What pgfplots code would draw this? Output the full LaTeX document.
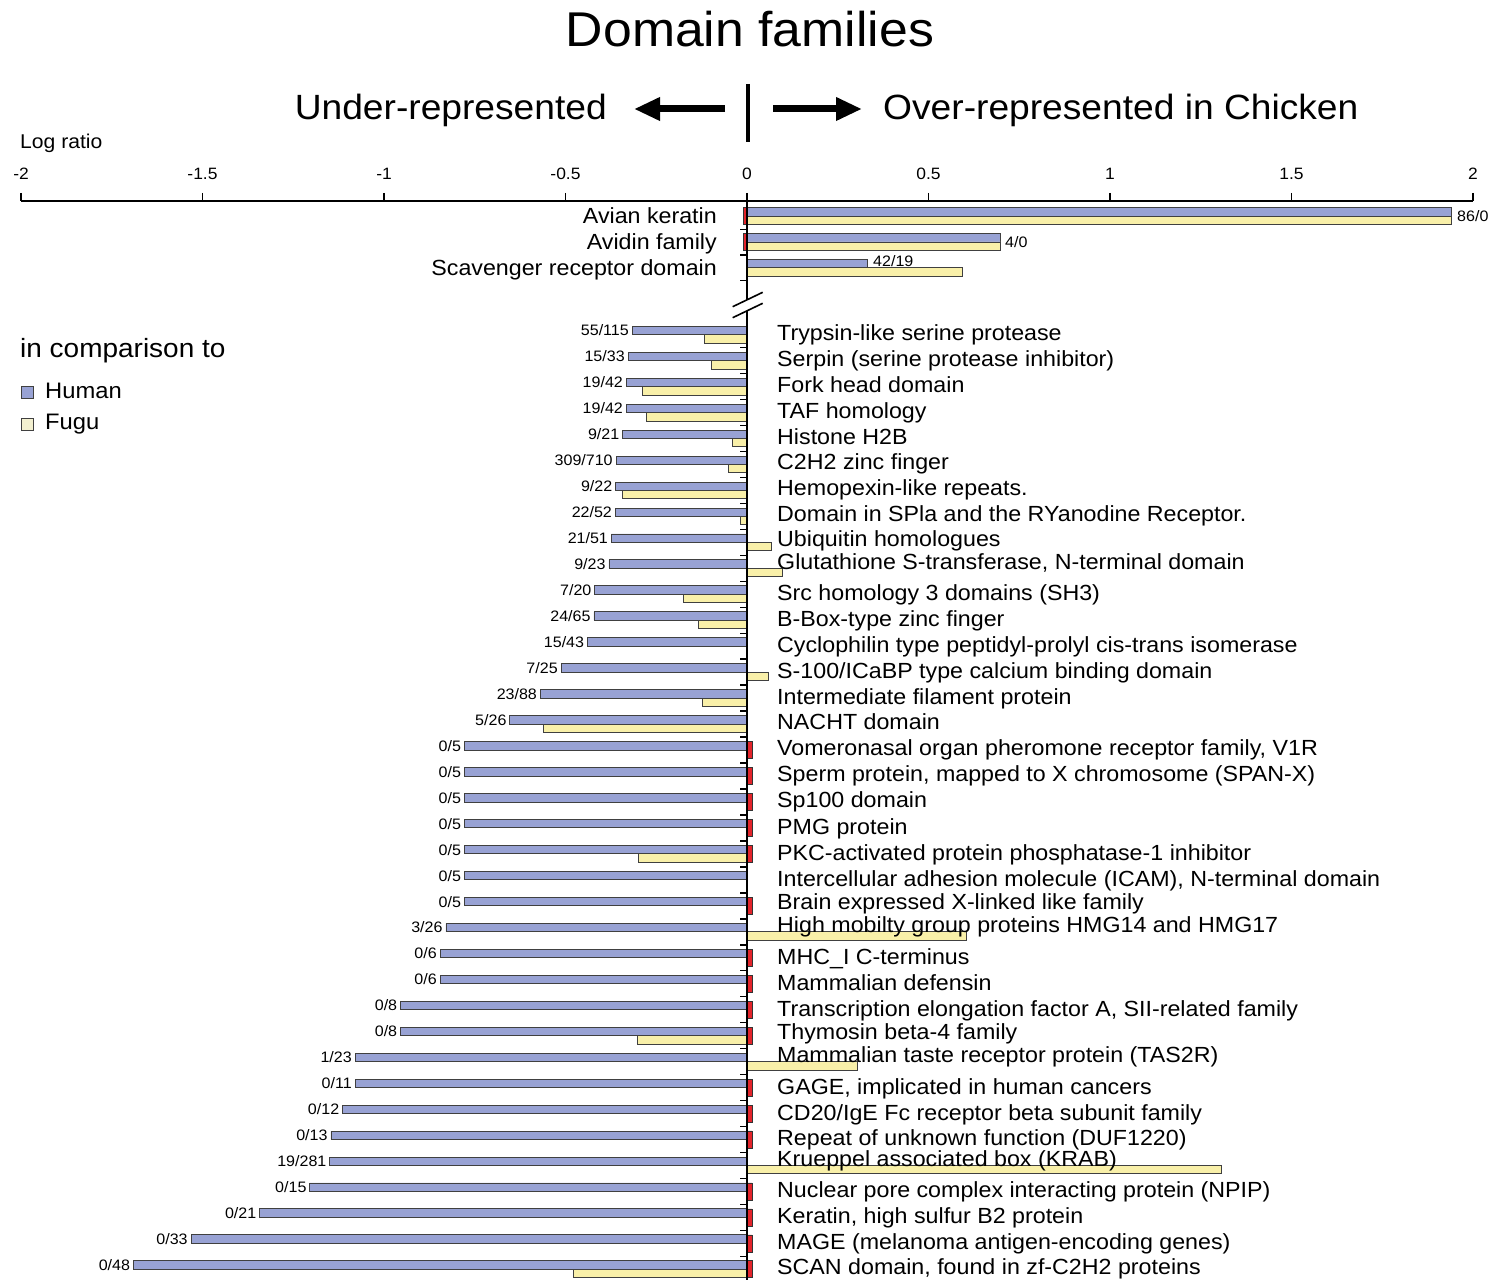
\documentclass[border=0pt]{standalone}
\usepackage{fontspec}
\setmainfont{Liberation Sans}[FakeStretch=1.06]
\usepackage{pgfplots}
\usepackage{pgfplotstable}
\pgfplotsset{compat=1.18}
\usetikzlibrary{arrows.meta}
\definecolor{hblue}{HTML}{98A2D4}
\definecolor{fyel}{HTML}{F9F0A9}
\definecolor{fyelleg}{HTML}{F3F0D0}
\definecolor{redbar}{HTML}{E3242B}
\newcommand{\fs}[1]{\fontsize{#1}{#1}\selectfont}

\pgfplotstableread{
mid human fugu
216.3 1.9395 1.9395
242.0 0.699 0.699
267.6 0.3324 0.593
}\toptab

\pgfplotstableread{
mid v
216.3 -0.011
242.0 -0.011
}\topred

\pgfplotstableread{
row human fugu lab
0 -0.3160 -0.118 55/115
1 -0.3274 -0.098 15/33
2 -0.3324 -0.289 19/42
3 -0.3324 -0.276 19/42
4 -0.3424 -0.041 9/21
5 -0.3605 -0.050 309/710
6 -0.3617 -0.342 9/22
7 -0.3626 -0.019 22/52
8 -0.3736 0.066 21/51
9 -0.3802 0.097 9/23
10 -0.4191 -0.176 7/20
11 -0.4216 -0.134 24/65
12 -0.4393 0 15/43
13 -0.5119 0.059 7/25
14 -0.5692 -0.122 23/88
15 -0.6532 -0.561 5/26
16 -0.7782 0 0/5
17 -0.7782 0 0/5
18 -0.7782 0 0/5
19 -0.7782 0 0/5
20 -0.7782 -0.299 0/5
21 -0.7782 0 0/5
22 -0.7782 0 0/5
23 -0.8293 0.604 3/26
24 -0.8451 0 0/6
25 -0.8451 0 0/6
26 -0.9542 0 0/8
27 -0.9542 -0.301 0/8
28 -1.0792 0.303 1/23
29 -1.0792 0 0/11
30 -1.1139 0 0/12
31 -1.1461 0 0/13
32 -1.1492 1.307 19/281
33 -1.2041 0 0/15
34 -1.3424 0 0/21
35 -1.5315 0 0/33
36 -1.6902 -0.477 0/48
}\lowtab

\pgfplotstableread{
row v
16 0.014
17 0.014
18 0.014
19 0.014
20 0.014
22 0.014
24 0.014
25 0.014
26 0.014
27 0.014
29 0.014
30 0.014
31 0.014
33 0.014
34 0.014
35 0.014
36 0.014
}\lowred

\begin{document}
\begin{tikzpicture}
\begin{axis}[
  scale only axis, width=1452bp, height=1079bp,
  xmin=-2, xmax=2, ymin=-1280, ymax=-201,
  axis x line*=top, axis y line=none,
  x axis line style={-, line width=1.6bp},
  xtick={-2,-1.5,-1,-0.5,0,0.5,1,1.5,2},
  xticklabels={-2,-1.5,-1,-0.5,0,0.5,1,1.5,2},
  tick align=outside, major tick length=8bp,
  tick style={line width=1.6bp, black},
  xticklabel style={font=\fs{16.5}, text=black},
  xticklabel shift=10bp,
  ytick=\empty,
  clip=false,
]
% top block
\addplot[xbar, bar shift=0pt, bar width=8.4, fill=hblue, draw=black!75, line width=0.9bp]
  table[x=human, y expr={-\thisrow{mid}+4.2}] {\toptab};
\addplot[xbar, bar shift=0pt, bar width=8.4, fill=fyel, draw=black!75, line width=0.9bp]
  table[x=fugu, y expr={-\thisrow{mid}-4.2}] {\toptab};
\addplot[xbar, bar shift=0pt, bar width=17, fill=redbar, draw=black!80, line width=0.6bp]
  table[x=v, y expr={-\thisrow{mid}}] {\topred};
% lower block
\addplot[xbar, bar shift=0pt, bar width=8.4, fill=hblue, draw=black!75, line width=0.9bp,
  nodes near coords, point meta=explicit symbolic,
  nodes near coords style={anchor=east, font=\fs{15.2}, text=black, inner xsep=3bp, inner ysep=0pt}]
  table[x=human, y expr={-(334.7+25.96*\thisrow{row})+4.2}, meta=lab] {\lowtab};
\addplot[xbar, bar shift=0pt, bar width=8.4, fill=fyel, draw=black!75, line width=0.9bp]
  table[x=fugu, y expr={-(334.7+25.96*\thisrow{row})-4.2}] {\lowtab};
\addplot[xbar, bar shift=0pt, bar width=17, fill=redbar, draw=black!80, line width=0.6bp]
  table[x=v, y expr={-(334.7+25.96*\thisrow{row})}] {\lowred};
\coordinate (P0) at (axis cs:-2.057851,0);
\end{axis}

\begin{scope}[shift={(P0)}, x=1bp, y=-1bp]
  % zero line with break
  \draw[line width=1.8bp] (747,201) -- (747,300);
  \draw[line width=1.8bp] (747,311) -- (747,1280);
  \draw[line width=1.6bp] (732.7,306.7) -- (762.7,292.3);
  \draw[line width=1.6bp] (732.7,317.7) -- (762.7,303.3);
  \foreach \yy in {229.3,255,280.7} \draw[line width=1.5bp] (740,\yy) -- (747,\yy);
  \foreach \i in {1,...,36} \draw[line width=1.5bp] (740,{347.7+25.96*(\i-1)}) -- (747,{347.7+25.96*(\i-1)});

  % header
  \node[anchor=base, inner sep=0pt, font=\fs{49}] at (750,47) {Domain families};
  \node[anchor=base east, inner sep=0pt, font=\fs{35.2}] at (607,119.5) {Under-represented};
  \node[anchor=base west, inner sep=0pt, font=\fs{35.2}] at (883,119.5) {Over-represented in Chicken};
  \draw[line width=7bp, -{Triangle[length=26bp,width=22bp]}] (725,109) -- (634,109);
  \draw[line width=7bp, -{Triangle[length=26bp,width=22bp]}] (773,109) -- (862,109);
  \draw[line width=4bp] (748,84) -- (748,142);
  \node[anchor=base west, inner sep=0pt, font=\fs{20}] at (20,149) {Log ratio};

  % top numeric labels
  \node[anchor=base west, inner sep=0pt, font=\fs{15.2}] at (1457,221.3) {86/0};
  \node[anchor=base west, inner sep=0pt, font=\fs{15.2}] at (1005,247.3) {4/0};
  \node[anchor=base west, inner sep=0pt, font=\fs{15.2}] at (873,267) {42/19};

  % top category labels
  \begin{scope}[every node/.style={anchor=base east, inner sep=0pt, font=\fs{22}}]
  \node at (717,224) {Avian keratin};
  \node at (717,250) {Avidin family};
  \node at (717,276) {Scavenger receptor domain};
  \end{scope}

  % lower category labels
  \begin{scope}[every node/.style={anchor=base west, inner sep=0pt, font=\fs{22}}]
  \node at (777,341) {Trypsin-like serine protease};
  \node at (777,367) {Serpin (serine protease inhibitor)};
  \node at (777,393) {Fork head domain};
  \node at (777,419) {TAF homology};
  \node at (777,445) {Histone H2B};
  \node at (777,470) {C2H2 zinc finger};
  \node at (777,496) {Hemopexin-like repeats.};
  \node at (777,522) {Domain in SPla and the RYanodine Receptor.};
  \node at (777,547) {Ubiquitin homologues};
  \node at (777,570) {Glutathione S-transferase, N-terminal domain};
  \node at (777,601) {Src homology 3 domains (SH3)};
  \node at (777,627) {B-Box-type zinc finger};
  \node at (777,653) {Cyclophilin type peptidyl-prolyl cis-trans isomerase};
  \node at (777,679) {S-100/ICaBP type calcium binding domain};
  \node at (777,705) {Intermediate filament protein};
  \node at (777,730) {NACHT domain};
  \node at (777,756) {Vomeronasal organ pheromone receptor family, V1R};
  \node at (777,782) {Sperm protein, mapped to X chromosome (SPAN-X)};
  \node at (777,808) {Sp100 domain};
  \node at (777,834) {PMG protein};
  \node at (777,860) {PKC-activated protein phosphatase-1 inhibitor};
  \node at (777,886) {Intercellular adhesion molecule (ICAM), N-terminal domain};
  \node at (777,909) {Brain expressed X-linked like family};
  \node at (777,932) {High mobilty group proteins HMG14 and HMG17};
  \node at (777,964) {MHC\_I C-terminus};
  \node at (777,990) {Mammalian defensin};
  \node at (777,1016) {Transcription elongation factor A, SII-related family};
  \node at (777,1039) {Thymosin beta-4 family};
  \node at (777,1062) {Mammalian taste receptor protein (TAS2R)};
  \node at (777,1094) {GAGE, implicated in human cancers};
  \node at (777,1120) {CD20/IgE Fc receptor beta subunit family};
  \node at (777,1145) {Repeat of unknown function (DUF1220)};
  \node at (777,1166) {Krueppel associated box (KRAB)};
  \node at (777,1197) {Nuclear pore complex interacting protein (NPIP)};
  \node at (777,1223) {Keratin, high sulfur B2 protein};
  \node at (777,1249) {MAGE (melanoma antigen-encoding genes)};
  \node at (777,1274) {SCAN domain, found in zf-C2H2 proteins};
  \end{scope}

  % legend
  \node[anchor=base west, inner sep=0pt, font=\fs{26.5}] at (20,358) {in comparison to};
  \draw[fill=hblue, draw=black!75, line width=0.9bp] (21,386) rectangle (33,398);
  \node[anchor=base west, inner sep=0pt, font=\fs{22.5}] at (45,398.3) {Human};
  \draw[fill=fyelleg, draw=black!75, line width=0.9bp] (21,418) rectangle (33,430);
  \node[anchor=base west, inner sep=0pt, font=\fs{22.5}] at (45,430) {Fugu};

  \pgfresetboundingbox
  \path[use as bounding box] (0,0) rectangle (1488,1280);
\end{scope}
\end{tikzpicture}
\end{document}
